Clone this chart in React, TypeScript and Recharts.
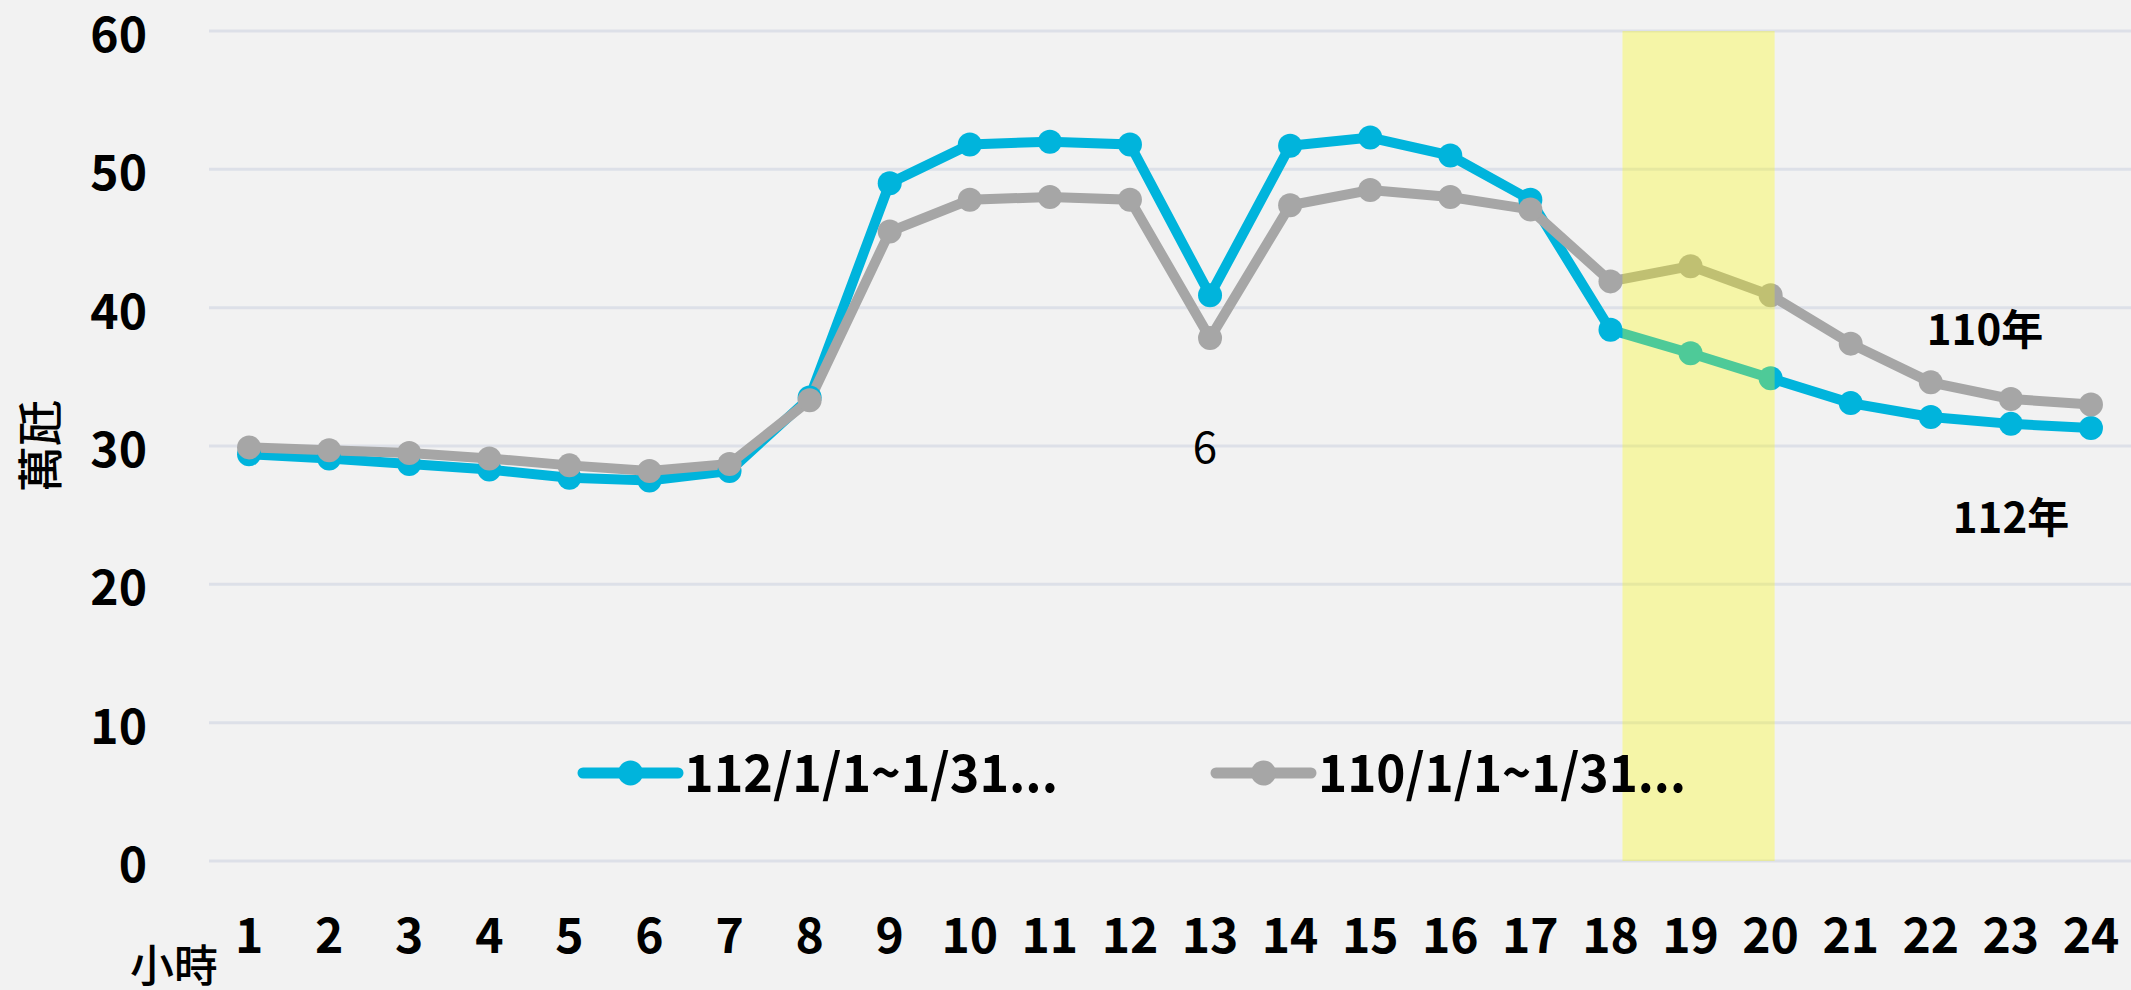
import { CartesianGrid, Legend, Line, LineChart, ReferenceArea, XAxis, YAxis } from 'recharts';

const hours = [1, 2, 3, 4, 5, 6, 7, 8, 9, 10, 11, 12, 13, 14, 15, 16, 17, 18, 19, 20, 21, 22, 23, 24];
const load112 = [29.4, 29.1, 28.7, 28.3, 27.7, 27.5, 28.2, 33.5, 49.0, 51.8, 52.0, 51.8, 40.9, 51.7, 52.3, 51.0, 47.8, 38.4, 36.7, 34.9, 33.1, 32.1, 31.6, 31.3];
const load110 = [29.9, 29.7, 29.5, 29.1, 28.6, 28.2, 28.7, 33.3, 45.5, 47.8, 48.0, 47.8, 37.8, 47.4, 48.5, 48.0, 47.1, 41.9, 43.0, 40.9, 37.4, 34.6, 33.4, 33.0];
const yTicks = [0, 10, 20, 30, 40, 50, 60];
const seriesNames = ['112/1/1~1/31...', '110/1/1~1/31...'];
const peakBand = [18.15, 20.05];

const BLUE = '#00B4DC';
const GRAY = '#A6A6A6';
const FONT = '"Noto Sans CJK TC", "Noto Sans", sans-serif';

const data = hours.map((h, i) => ({ hour: h, y112: load112[i], y110: load110[i] }));

function XTick({ x, y, payload }: any) {
  return (
    <text x={x} y={y + 71} textAnchor="middle" dominantBaseline="central" fontFamily={FONT} fontWeight={700} fontSize={48} fill="#000">
      {payload.value}
    </text>
  );
}

function YTick({ x, y, payload }: any) {
  return (
    <text x={x - 62} y={y} textAnchor="end" dominantBaseline="central" fontFamily={FONT} fontWeight={700} fontSize={48} fill="#000">
      {payload.value}
    </text>
  );
}

// legend svg sits at top 720, so y values here are page y - 720
function LegendBox() {
  const items = [
    { name: seriesNames[0], color: BLUE, x0: 583, x1: 678, tx: 684, len: 374 },
    { name: seriesNames[1], color: GRAY, x0: 1216, x1: 1311, tx: 1318, len: 368 },
  ];
  return (
    <svg width={2131} height={110} style={{ display: 'block' }}>
      {items.map((it) => (
        <g key={it.name}>
          <line x1={it.x0} x2={it.x1} y1={53} y2={53} stroke={it.color} strokeWidth={11} strokeLinecap="round" />
          <circle cx={(it.x0 + it.x1) / 2} cy={53} r={12.5} fill={it.color} />
          <text x={it.tx} y={72} fontFamily={FONT} fontWeight={700} fontSize={52} fill="#000" textLength={it.len} lengthAdjust="spacingAndGlyphs">
            {it.name}
          </text>
        </g>
      ))}
    </svg>
  );
}

export default function App() {
  return (
    <div style={{ position: 'absolute', left: 0, top: 0, width: 2131, height: 990, background: '#F2F2F2' }}>
      <LineChart width={2131} height={990} data={data} margin={{ top: 31, right: 0, bottom: 0, left: 0 }}>
        <CartesianGrid horizontal vertical={false} stroke="#DDE0E8" strokeWidth={3} />
        <XAxis
          dataKey="hour"
          type="number"
          domain={[0.5, 24.5]}
          ticks={hours}
          interval={0}
          axisLine={false}
          tickLine={false}
          tickSize={0}
          tickMargin={0}
          tick={<XTick />}
          height={129}
        />
        <YAxis
          domain={[0, 60]}
          ticks={yTicks}
          axisLine={false}
          tickLine={false}
          tickSize={0}
          tickMargin={0}
          tick={<YTick />}
          width={209}
        />
        <Line dataKey="y112" stroke={BLUE} strokeWidth={10} dot={{ r: 12, fill: BLUE, stroke: 'none' }} isAnimationActive={false} />
        <Line dataKey="y110" stroke={GRAY} strokeWidth={10} dot={{ r: 12, fill: GRAY, stroke: 'none' }} isAnimationActive={false} />
        <ReferenceArea x1={peakBand[0]} x2={peakBand[1]} y1={0} y2={60} fill="#FBFB00" fillOpacity={0.31} stroke="none" zIndex={1500} />
        <Legend
          layout="horizontal"
          verticalAlign="middle"
          content={<LegendBox />}
          wrapperStyle={{ left: 0, top: 720, width: 2131, height: 110 }}
        />
      </LineChart>
      <svg width={2131} height={990} style={{ position: 'absolute', left: 0, top: 0, pointerEvents: 'none' }}>
        <text x={1205} y={444} textAnchor="middle" dominantBaseline="central" fontFamily={FONT} fontSize={44} fill="#000">6</text>
        <text x={1985} y={326} textAnchor="middle" dominantBaseline="central" fontFamily={FONT} fontWeight={700} fontSize={42} fill="#000">110年</text>
        <text x={2011} y={514} textAnchor="middle" dominantBaseline="central" fontFamily={FONT} fontWeight={700} fontSize={42} fill="#000">112年</text>
        <text x={174} y={963} textAnchor="middle" dominantBaseline="central" fontFamily={FONT} fontWeight={500} fontSize={44} fill="#000">小時</text>
        <text x={37} y={446} textAnchor="middle" dominantBaseline="central" fontFamily={FONT} fontWeight={500} fontSize={46} fill="#000" transform="rotate(-90 37 446)">萬瓩</text>
      </svg>
    </div>
  );
}
